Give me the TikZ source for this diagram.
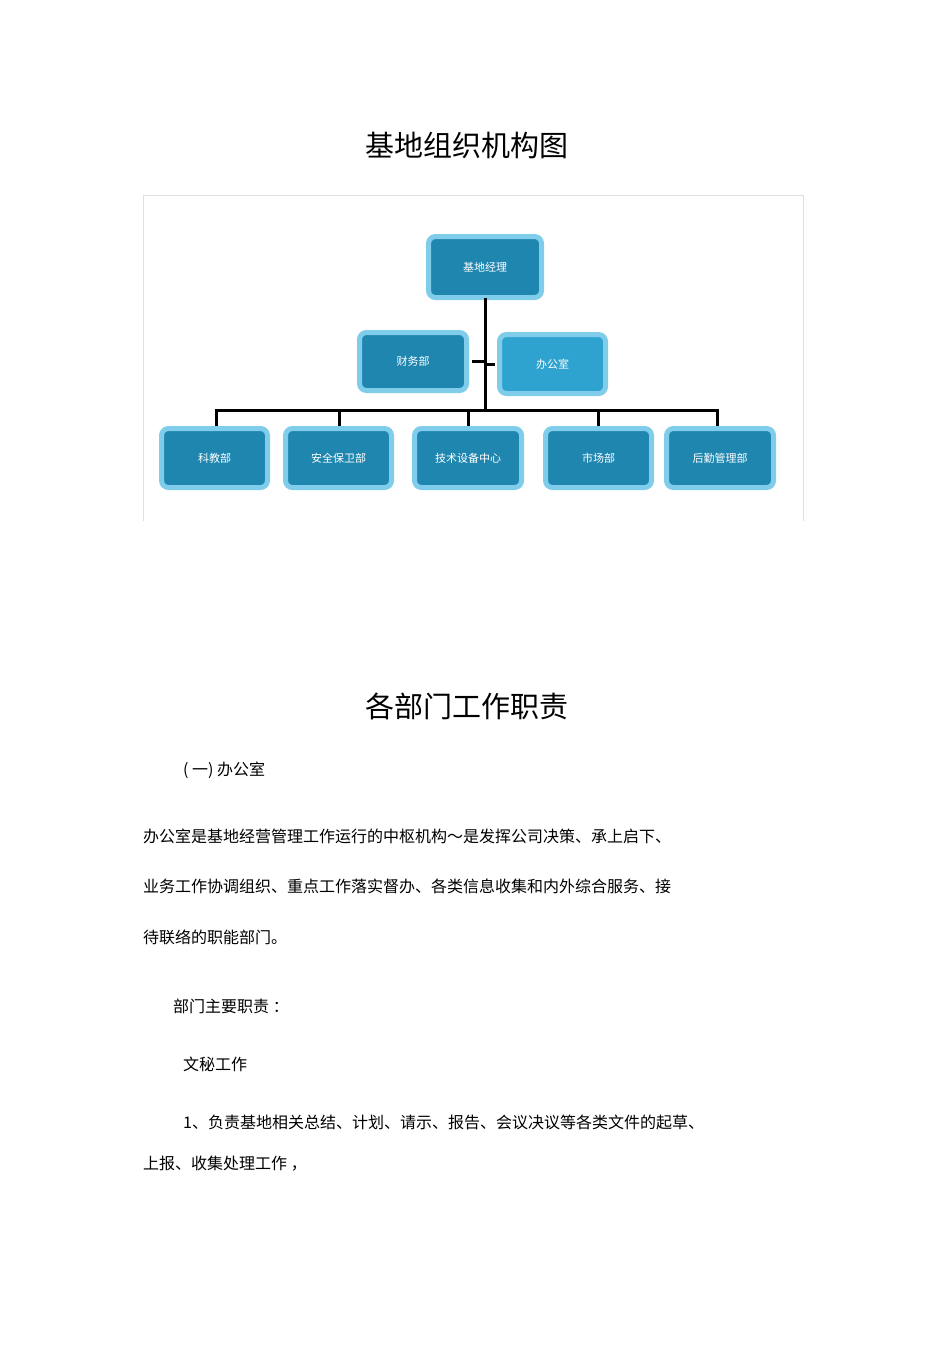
\documentclass[tikz,border=0pt]{standalone}
\usepackage{fontspec}
\setmainfont{Noto Sans CJK SC}
\definecolor{outerc}{HTML}{7FCDEA}
\definecolor{innerc}{HTML}{1F86B0}
\definecolor{innerl}{HTML}{2FA3CF}
\begin{document}
\begin{tikzpicture}[x=1pt,y=-1pt,
  box/.style={draw=outerc,line width=5pt,fill=innerc,rounded corners=7pt,text=white,font=\fontsize{11}{11}\selectfont,inner sep=0pt},
  conn/.style={line width=3pt,black},
  body/.style={anchor=west,font=\fontsize{16}{16}\selectfont,inner sep=0pt},
  title/.style={font=\fontsize{29}{29}\selectfont,inner sep=0pt}]
\useasboundingbox (0,0) rectangle (950,1345);
\node[title] (t1) at (467,145) {基地组织机构图};
\draw[gray!25,line width=0.8pt] (143,521) -- (143,195) -- (803,195) -- (803,521);
\node[box,minimum width=113pt,minimum height=61pt] (boss) at (485,267) {基地经理};
\node[box,minimum width=107pt,minimum height=58pt] (fin) at (413,361.5) {财务部};
\node[box,fill=innerl,minimum width=106pt,minimum height=59pt] (off) at (552.5,364) {办公室};
\node[box,minimum width=106pt,minimum height=59pt] (b1) at (214.5,458) {科教部};
\node[box,minimum width=106pt,minimum height=59pt] (b2) at (338.5,458) {安全保卫部};
\node[box,minimum width=107pt,minimum height=59pt] (b3) at (468,458) {技术设备中心};
\node[box,minimum width=106pt,minimum height=59pt] (b4) at (598.5,458) {市场部};
\node[box,minimum width=107pt,minimum height=59pt] (b5) at (720,458) {后勤管理部};
\coordinate (j) at (485,410);
\draw[conn] (boss.south) ++(0,-2.5) -- (j);
\draw[conn] (fin.east) ++(2.5,0) -- (485,361.5);
\draw[conn] (off.west) ++(-2.5,0) -- (485,364);
\draw[conn] (216,426) -- (216,410) -- (717,410) -- (717,426);
\foreach \n/\x in {b2/339,b3/468,b4/598}{\draw[conn] (\x,410) -- (\x,426);}
\node[title] (t2) at (467,706) {各部门工作职责};
\node[body] (p0) at (183,770) {( 一) 办公室};
\node[body] (p1) at (143,836) {办公室是基地经营管理工作运行的中枢机构～是发挥公司决策、承上启下、};
\node[body] (p2) at (143,886) {业务工作协调组织、重点工作落实督办、各类信息收集和内外综合服务、接};
\node[body] (p3) at (143,937) {待联络的职能部门。};
\node[body] (p4) at (173,1006) {部门主要职责 ：};
\node[body] (p5) at (183,1064) {文秘工作};
\node[body] (p6) at (183,1122) {1、负责基地相关总结、计划、请示、报告、会议决议等各类文件的起草、};
\node[body] (p7) at (143,1164) {上报、收集处理工作 ，};
\end{tikzpicture}
\end{document}
